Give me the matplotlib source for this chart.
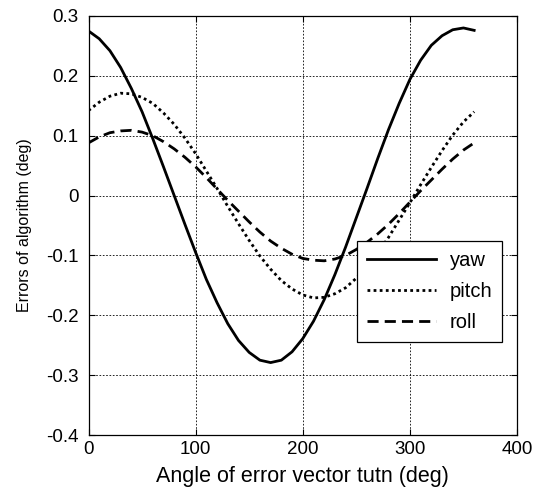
import numpy as np
import matplotlib
matplotlib.use("Agg")
import matplotlib.pyplot as plt

plt.rcParams['font.family'] = ['Liberation Sans', 'DejaVu Sans']
plt.rcParams['axes.unicode_minus'] = False

# angle of error vector (deg), sampled every 10 deg
angle = list(range(0, 361, 10))

yaw = [0.275, 0.262, 0.242, 0.214, 0.179, 0.140, 0.095, 0.048, 0.000, -0.048,
       -0.095, -0.140, -0.179, -0.214, -0.242, -0.262, -0.275, -0.279,
       -0.275, -0.261, -0.239, -0.210, -0.174, -0.132, -0.086, -0.037,
       0.012, 0.062, 0.110, 0.154, 0.194, 0.226, 0.251, 0.267, 0.277,
       0.280, 0.276]

pitch = [0.142, 0.156, 0.166, 0.171, 0.170, 0.164, 0.154, 0.138, 0.119, 0.096,
         0.070, 0.041, 0.012, -0.018, -0.047, -0.075, -0.101, -0.123,
         -0.142, -0.156, -0.166, -0.171, -0.170, -0.164, -0.154, -0.138,
         -0.119, -0.096, -0.070, -0.041, -0.012, 0.018, 0.047, 0.075,
         0.101, 0.123, 0.140]

roll = [0.088, 0.098, 0.105, 0.108, 0.109, 0.106, 0.100, 0.090, 0.078, 0.064,
        0.048, 0.030, 0.011, -0.008, -0.026, -0.044, -0.061, -0.076,
        -0.088, -0.098, -0.105, -0.108, -0.109, -0.106, -0.100, -0.090,
        -0.078, -0.064, -0.048, -0.030, -0.011, 0.008, 0.026, 0.044,
        0.061, 0.076, 0.088]

xticks = [0, 100, 200, 300, 400]
yticks = [-0.4, -0.3, -0.2, -0.1, 0, 0.1, 0.2, 0.3]
ytick_labels = ['-0.4', '-0.3', '-0.2', '-0.1', '0', '0.1', '0.2', '0.3']

fig = plt.figure(figsize=(5.38, 4.95), dpi=100)
ax = fig.add_axes([0.1645, 0.1212, 0.7965, 0.8465])

ax.plot(angle, yaw, color='black', linestyle='-', linewidth=2.0, label='yaw')
ax.plot(angle, pitch, color='black', linestyle=(0, (1, 1.2)), linewidth=2.0, label='pitch')
ax.plot(angle, roll, color='black', linestyle=(0, (4, 2.2)), linewidth=2.0, label='roll')

ax.set_xlim(0, 400)
ax.set_ylim(-0.4, 0.3)
ax.set_xticks(xticks)
ax.set_yticks(yticks)
ax.set_yticklabels(ytick_labels)
ax.tick_params(direction='in', length=4, width=0.8, labelsize=13.5,
               top=True, right=True, colors='black')
ax.tick_params(axis='y', pad=7)
ax.tick_params(axis='x', pad=4)
ax.grid(True, color='black', linestyle=(0, (2, 2)), linewidth=0.6)
for s in ax.spines.values():
    s.set_linewidth(0.9)

ax.set_xlabel('Angle of error vector tutn (deg)', fontsize=15.5, labelpad=6)
ax.set_ylabel('Errors of algorithm (deg)', fontsize=11.5, labelpad=10)

leg = ax.legend(loc='upper right', bbox_to_anchor=(0.966, 0.464), borderaxespad=0,
                fontsize=14.5, handlelength=3.4, handletextpad=0.7, labelspacing=0.6,
                fancybox=False, framealpha=1, edgecolor='black', borderpad=0.5)
leg.get_frame().set_linewidth(0.9)

fig.savefig('out.png', dpi=100)
